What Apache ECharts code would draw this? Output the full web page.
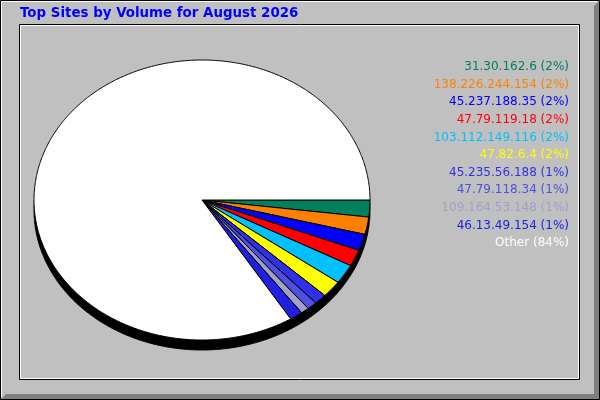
<!DOCTYPE html>
<html>
<head>
<meta charset="utf-8">
<script src="https://cdn.jsdelivr.net/npm/echarts@6/dist/echarts.min.js"></script>
<style>
html, body { margin: 0; padding: 0; background: #c0c0c0; }
#chart { width: 600px; height: 400px; }
</style>
</head>
<body>
<div id="chart"></div>
<script>
// top sites (share of volume, %)
const sites = ['31.30.162.6', '138.226.244.154', '45.237.188.35', '47.79.119.18', '103.112.149.116',
  '47.82.6.4', '45.235.56.188', '47.79.118.34', '109.164.53.148', '46.13.49.154', 'Other']
const shares = [1.95, 2.0, 1.9, 1.9, 2.25, 1.95, 1.2, 0.95, 0.8, 1.25, 83.85]
const sliceColors = ['#00805c', '#ff8000', '#0000ff', '#ff0000', '#00c0ff', '#ffff00',
  '#3030e8', '#5050e0', '#a0a0c8', '#2020e0', '#ffffff']

const chartTitle = 'Top Sites by Volume for August 2026'

// pie geometry (ellipse, with a black 3d rim below)
const cx = 202, cy = 200, rx = 168, ry = 140, depth = 10

const total = shares.reduce((a, b) => a + b, 0)
let startAngles = []
let acc = 0
for (let v of shares) {
    startAngles.push(acc / total * 360)
    acc += v
}

function arcPoints(a0, a1, dy) {
    let pts = [[cx, cy + dy]]
    let steps = Math.max(2, Math.ceil((a1 - a0) / 0.5))
    for (let i = 0; i <= steps; i++) {
        let a = (a0 + (a1 - a0) * i / steps) * Math.PI / 180
        pts.push([cx + rx * Math.cos(a), cy + dy + ry * Math.sin(a)])
    }
    return pts
}

function sliceItem(dy, fillFn) {
    return function (params, api) {
        let i = params.dataIndex
        let a0 = startAngles[i]
        let a1 = a0 + api.value(0) / total * 360
        return {
            type: 'polygon',
            shape: { points: arcPoints(a0, a1, dy) },
            style: { fill: fillFn(i), stroke: '#000', lineWidth: 1 }
        }
    }
}

let legendTexts = sites.map((s, i) => ({
    type: 'text',
    x: 569,
    y: 67 + i * 17.6,
    z: 10,
    style: {
        text: s + ' (' + Math.round(shares[i] / total * 100) + '%)',
        fill: sliceColors[i],
        font: '12px "DejaVu Sans"',
        align: 'right',
        verticalAlign: 'middle',
        textAlign: 'right',
        textVerticalAlign: 'middle'
    }
}))

let chart = echarts.init(document.getElementById('chart'))

option = {
    animation: false,
    backgroundColor: '#c0c0c0',
    title: {
        text: chartTitle,
        left: 20,
        top: 7,
        padding: 0,
        textStyle: {
            color: '#0000ff',
            fontFamily: 'DejaVu Sans',
            fontWeight: 'bold',
            fontSize: 13.4
        }
    },
    graphic: [
        // outer bevel
        {
            type: 'polygon', z: 5,
            shape: { points: [[600, 0], [600, 400], [0, 400], [6, 394], [594, 394], [594, 6]] },
            style: { fill: '#808080' }
        },
        {
            type: 'polyline', z: 5,
            shape: { points: [[1.5, 397], [1.5, 1.5], [597, 1.5]] },
            style: { stroke: '#ffffff', lineWidth: 1, fill: null }
        },
        {
            type: 'rect', z: 6,
            shape: { x: 0.5, y: 0.5, width: 599, height: 399 },
            style: { stroke: '#000', fill: null, lineWidth: 1 }
        },
        // inner frame
        {
            type: 'rect', z: 5,
            shape: { x: 19.5, y: 24.5, width: 560, height: 355 },
            style: { stroke: '#000', fill: null, lineWidth: 1 }
        },
        {
            type: 'rect', z: 5,
            shape: { x: 20.5, y: 25.5, width: 558, height: 353 },
            style: { stroke: '#fff', fill: null, lineWidth: 1 }
        },
        ...legendTexts
    ],
    series: [
        {
            name: 'depth',
            type: 'custom',
            coordinateSystem: 'none',
            z: 1,
            silent: true,
            renderItem: sliceItem(depth, () => '#000'),
            data: shares
        },
        {
            name: 'Volume',
            type: 'custom',
            coordinateSystem: 'none',
            z: 2,
            renderItem: sliceItem(0, i => sliceColors[i]),
            data: shares
        }
    ]
}
chart.setOption(option)
</script>
</body>
</html>
